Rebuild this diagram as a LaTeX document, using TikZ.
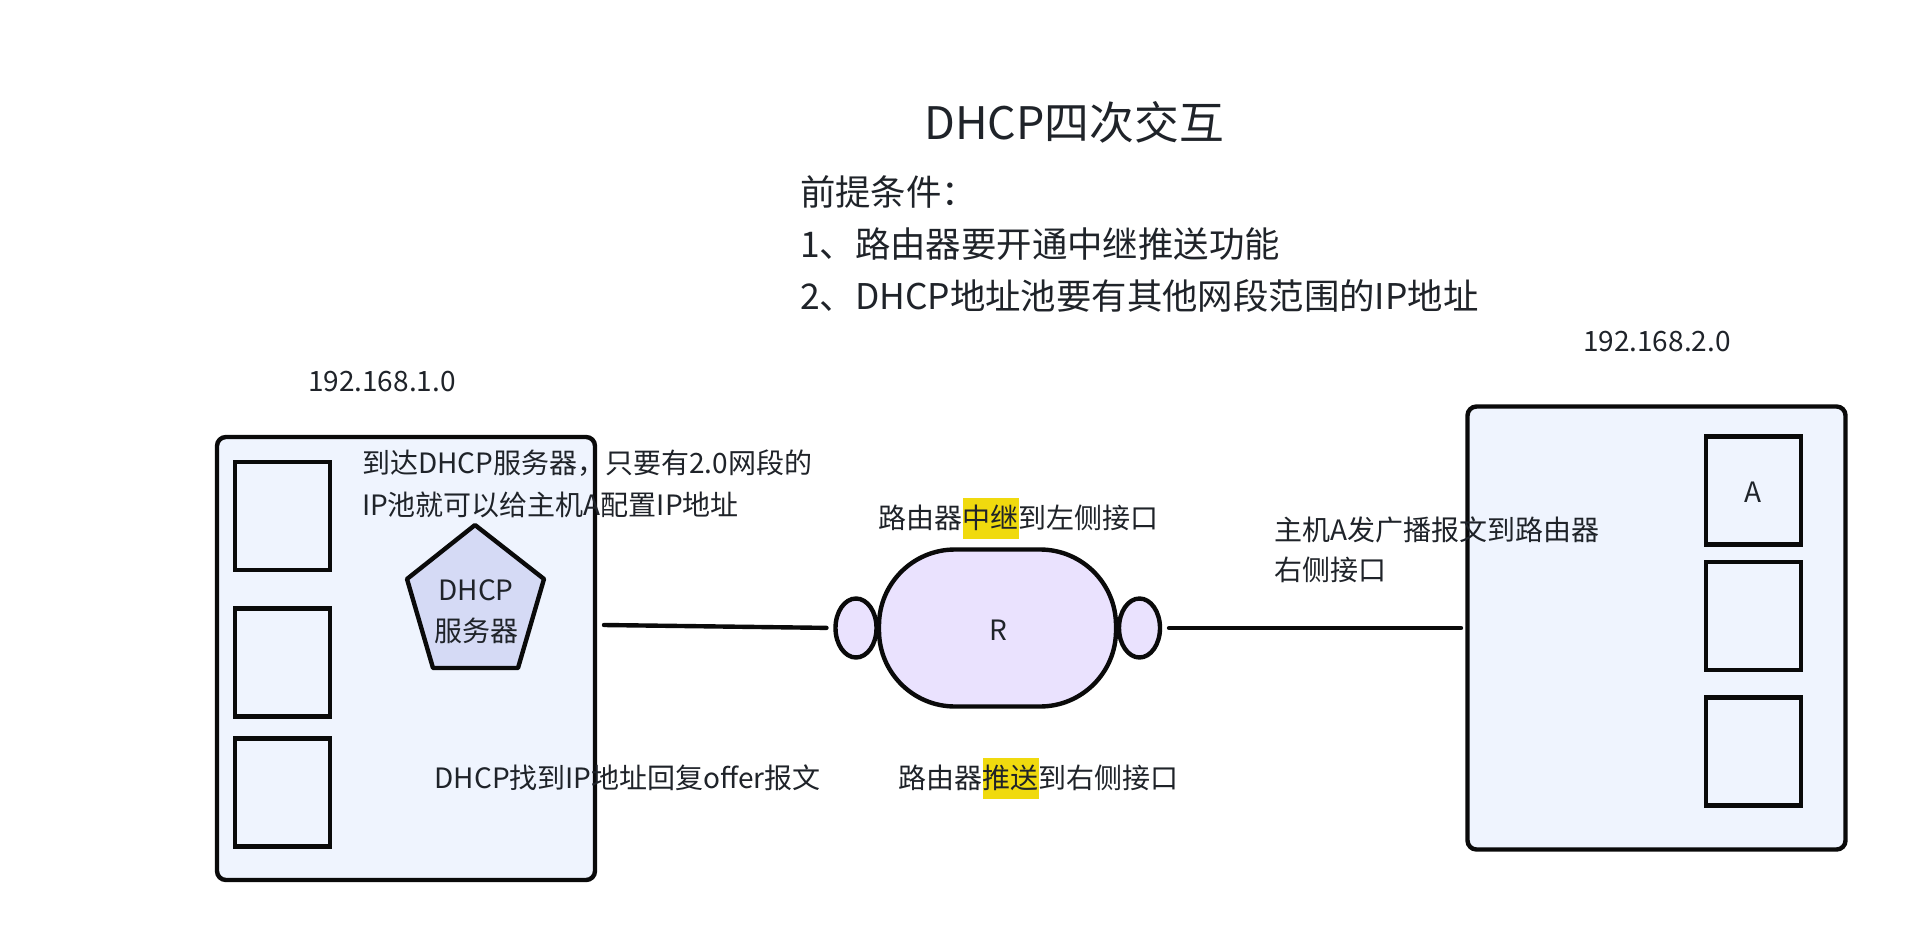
\documentclass[tikz,border=0pt]{standalone}
\usepackage{fontspec}
\setmainfont{Noto Sans CJK SC}
\usetikzlibrary{calc,shapes.geometric}
\definecolor{ink}{HTML}{1F2329}
\definecolor{edge}{HTML}{0A0A0A}
\definecolor{lanfill}{HTML}{EFF4FE}
\definecolor{penfill}{HTML}{D5DAF5}
\definecolor{rfill}{HTML}{EAE2FE}
\definecolor{mark}{HTML}{F0DA0E}
\newcommand{\hlt}[1]{{\setlength{\fboxsep}{0pt}\colorbox{mark}{\rule[-0.36em]{0pt}{1.45em}#1}}}
\tikzset{
  x=1pt,y=-1pt,
  shapebox/.style={draw=edge,line width=4.4pt,inner sep=0pt,outer sep=0pt},
  lanbox/.style={shapebox,fill=lanfill,rectangle,rounded corners=9pt,minimum width=378pt,minimum height=443pt},
  hostbox/.style={shapebox,rectangle,minimum width=95pt,minimum height=108pt},
  port/.style={shapebox,fill=rfill,ellipse,minimum width=41pt,minimum height=59pt},
  body/.style={inner sep=0pt,outer sep=0pt,text=ink,font=\fontsize{28pt}{33pt}\selectfont,anchor=base west},
  mid/.style={inner sep=0pt,outer sep=0pt,text=ink,font=\fontsize{28pt}{33pt}\selectfont,anchor=base},
  lead/.style={body,font=\fontsize{35.4pt}{42pt}\selectfont},
  wire/.style={draw=edge,line width=4.4pt,line cap=round},
}
\begin{document}
\begin{tikzpicture}
\useasboundingbox (0,0) rectangle (1930,947);
\fill[white] (0,0) rectangle (1930,947);
\node[lead,font=\fontsize{44.8pt}{52pt}\selectfont] (title) at (924.5,139.5) {DHCP四次交互};
\node[lead] (pre0) at (800,205.5) {前提条件：};
\node[lead] (pre1) at (800,257) {1、路由器要开通中继推送功能};
\node[lead] (pre2) at (800,309) {2、DHCP地址池要有其他网段范围的IP地址};
\node[body] (net1) at (308,391.5) {192.168.1.0};
\node[body] (net2) at (1583,351) {192.168.2.0};
% left LAN
\node[lanbox] (lan1) at (406,658.5) {};
\node[hostbox] (h1) at (282.5,516) {};
\node[hostbox] (h2) at (282.5,662.5) {};
\node[hostbox] (h3) at (282.5,792.5) {};
\draw[draw=edge,line width=4.4pt,fill=penfill,line join=round]
  (475,525) -- (544,579) -- (518,668) -- (433,668) -- (407,579) -- cycle;
\node[mid] (srv1) at (476,600) {DHCP};
\node[mid] (srv2) at (476,641) {服务器};
% right LAN
\node[lanbox] (lan2) at (1656.5,628) {};
\node[hostbox] (a) at (1753.5,490.5) {};
\node[mid] (alabel) at (1753,502.5) {A};
\node[hostbox] (b) at (1753.5,616) {};
\node[hostbox] (c) at (1753.5,751.5) {};
% router
\node[shapebox,fill=rfill,rectangle,rounded corners=76pt,minimum width=237pt,minimum height=157pt] (r) at (997.5,628) {};
\node[mid] (rlabel) at (998,640.5) {R};
\node[port] (pl) at (856,628) {};
\node[port] (pr) at (1139.5,628) {};
% connectors
\draw[wire,shorten >=9pt] ([xshift=9pt,yshift=33.5pt]lan1.east) -- (pl.west);
\draw[wire,shorten <=9pt,shorten >=6.5pt] (pr.east) -- (lan2.west);
% labels
\node[body] (t1) at (362,473.5) {到达DHCP服务器，只要有2.0网段的};
\node[body] (t2) at (362,515.5) {IP池就可以给主机A配置IP地址};
\node[body] (t3) at (434.5,788.5) {DHCP找到IP地址回复offer报文};
\node[body] (t4) at (878.5,528.5) {路由器\hlt{中继}到左侧接口};
\node[body] (t5) at (898.5,788.5) {路由器\hlt{推送}到右侧接口};
\node[body] (t6) at (1274,540.5) {主机A发广播报文到路由器};
\node[body] (t7) at (1274,580.5) {右侧接口};
\end{tikzpicture}
\end{document}
